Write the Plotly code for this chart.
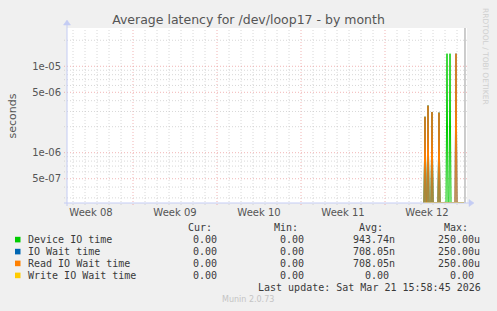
import plotly.graph_objects as go
import pandas as pd

# ---------------- data ----------------
TITLE = "Average latency for /dev/loop17 - by month"
Y_LABEL = "seconds"
X_START = "2026-02-16 12:00"
X_END = "2026-03-21 20:00"
LAST_UPDATE = "2026-03-21 15:58:45"
WEEK_STARTS = ["2026-02-15", "2026-02-22", "2026-03-01", "2026-03-08", "2026-03-15"]
WEEK_LABELS = ["Week 08", "Week 09", "Week 10", "Week 11", "Week 12"]
Y_TICK_VALS = [1e-5, 5e-6, 1e-6, 5e-7]
Y_TICK_TEXT = ["1e-05", "5e-06", "1e-06", "5e-07"]
Y_RANGE_LOG = [-6.582, -4.557]

SAMPLE_START = "2026-03-18 06:00"   # 2-hour averaged samples
SAMPLE_STEP = "2h"

device_io = [0, 2.6e-6, 0, 0, 3.5e-6, 0, 0, 0, 2.95e-6, 0, 0, 0, 0, 0, 0, 2.9e-6,
             0, 0, 0, 0, 0, 0, 0, 1.4e-5, 0, 0, 1.4e-5, 0, 0, 0, 0, 0,
             0, 0, 0, 0, 0, 0, 0, 0, 0]
io_wait = [0, 2.6e-6, 0, 0, 3.5e-6, 0, 0, 0, 2.95e-6, 0, 0, 0, 0, 0, 0, 2.9e-6,
           0, 0, 0, 0, 0, 0, 0, 0, 0, 0, 0, 0, 0, 0, 0, 0,
           1.4e-5, 0, 0, 0, 0, 0, 0, 0, 0]
read_io_wait = [0, 2.6e-6, 0, 0, 3.5e-6, 0, 0, 0, 2.95e-6, 0, 0, 0, 0, 0, 0, 2.9e-6,
                0, 0, 0, 0, 0, 0, 0, 0, 0, 0, 0, 0, 0, 0, 0, 0,
                1.4e-5, 0, 0, 0, 0, 0, 0, 0, 0]
write_io_wait = [0, 0, 0, 0, 0, 0, 0, 0, 0, 0, 0, 0, 0, 0, 0, 0,
                 0, 0, 0, 0, 0, 0, 0, 0, 0, 0, 0, 0, 0, 0, 0, 0,
                 0, 0, 0, 0, 0, 0, 0, 0, 0]

SERIES_NAMES = ["Device IO time", "IO Wait time", "Read IO Wait time", "Write IO Wait time"]
SERIES_COLORS = ["#00CC00", "#0066B3", "#FF8000", "#FFCC00"]
SERIES_DATA = [device_io, io_wait, read_io_wait, write_io_wait]

STAT_HEADERS = ["Cur:", "Min:", "Avg:", "Max:"]
STAT_CUR = [0.0, 0.0, 0.0, 0.0]
STAT_MIN = [0.0, 0.0, 0.0, 0.0]
STAT_AVG = [943.74e-9, 708.05e-9, 708.05e-9, 0.0]
STAT_MAX = [250e-6, 250e-6, 250e-6, 0.0]
LAST_UPDATE_TEXT = "Last update: Sat Mar 21 15:58:45 2026"
MUNIN_VERSION = "Munin 2.0.73"
WATERMARK = "RRDTOOL / TOBI OETIKER"

# ---------------- layout geometry (pixels) ----------------
W, H = 497, 311
PL, PR, PT, PB = 67, 467, 28, 203


def px(x):
    return (x - PL) / (PR - PL)


def py(y):
    return (PB - y) / (PB - PT)


def si_fmt(v):
    if v == 0:
        return "%.2f" % 0, False
    for f, s in [(1e-9, "n"), (1e-6, "u"), (1e-3, "m"), (1, "")]:
        if abs(v) < f * 1000:
            return "%.2f%s" % (v / f, s), s != ""
    return "%.2f" % v, False


floor = 10 ** Y_RANGE_LOG[0]
times = pd.date_range(SAMPLE_START, periods=len(device_io), freq=SAMPLE_STEP)

fig = go.Figure()
for name, col, vals in zip(SERIES_NAMES, SERIES_COLORS, SERIES_DATA):
    fig.add_trace(go.Scatter(
        x=times, y=[max(v, floor) for v in vals], mode="lines", name=name,
        line=dict(color=col, width=1), showlegend=False, hoverinfo="skip"))

shapes = []
GRID_MINOR = "rgba(200,200,200,0.7)"
GRID_MAJOR = "rgba(235,150,150,0.7)"
DASH = "1px,2px"

# vertical grid: daily minor, weekly major
x0 = pd.Timestamp(X_START)
x1 = pd.Timestamp(X_END)
week_ts = [pd.Timestamp(w) for w in WEEK_STARTS]
for d in pd.date_range(x0.ceil("D"), x1, freq="D"):
    major = d in week_ts
    shapes.append(dict(type="line", xref="x", yref="paper", x0=d, x1=d,
                       y0=py(PB + 2), y1=1, layer="below",
                       line=dict(color=GRID_MAJOR if major else GRID_MINOR, width=1, dash=DASH)))

# horizontal grid
for e in range(-8, -3):
    for k in range(1, 10):
        v = k * 10 ** e
        if not (10 ** Y_RANGE_LOG[0] < v < 10 ** Y_RANGE_LOG[1]):
            continue
        major = any(abs(v - t) / t < 1e-9 for t in Y_TICK_VALS)
        shapes.append(dict(type="line", xref="paper", yref="y", x0=px(PL - 3), x1=px(PR + 1),
                           y0=v, y1=v, layer="below",
                           line=dict(color=GRID_MAJOR if major else GRID_MINOR, width=1, dash=DASH)))

# last update marker
shapes.append(dict(type="line", xref="x", yref="paper", x0=LAST_UPDATE, x1=LAST_UPDATE,
                   y0=0, y1=1, line=dict(color="#9a9a9a", width=1)))

# axes lines + arrows
AX = "#c4ccf4"
shapes.append(dict(type="line", xref="paper", yref="paper", x0=px(PL), x1=px(PL),
                   y0=py(PB + 3), y1=py(PT - 4), line=dict(color=AX, width=1)))
shapes.append(dict(type="line", xref="paper", yref="paper", x0=px(PL - 3), x1=px(PR + 3),
                   y0=py(PB), y1=py(PB), line=dict(color=AX, width=1)))


def tri(pts):
    p = "M " + " L ".join("%f,%f" % (px(a), py(b)) for a, b in pts) + " Z"
    return dict(type="path", xref="paper", yref="paper", path=p,
                fillcolor=AX, line=dict(color=AX, width=0.5))


shapes.append(tri([(PL - 3.5, PT - 3), (PL + 3.5, PT - 3), (PL, PT - 8)]))
shapes.append(tri([(PR + 2, PB - 3.5), (PR + 2, PB + 3.5), (PR + 7, PB)]))

# legend squares
ROW_Y = [239.6, 251.6, 263.4, 275.4]
for col, ry in zip(SERIES_COLORS, ROW_Y):
    shapes.append(dict(type="rect", xref="paper", yref="paper",
                       x0=px(15), x1=px(20.5), y0=py(ry - 2.8), y1=py(ry + 2.8),
                       fillcolor=col, line=dict(width=0)))

ann = []
MONO = "DejaVu Sans Mono"
TXT = "#3a3a3a"


def A(text, x, y, xa="left", size=10, color=TXT, family=MONO, angle=0):
    ann.append(dict(text=text, x=px(x), y=py(y), xref="paper", yref="paper",
                    xanchor=xa, yanchor="middle", showarrow=False, textangle=angle,
                    font=dict(family=family, size=size, color=color)))


COL_END = [225.3, 311.7, 396.7, 482.3]
HDR_END = [213.5, 299.5, 384.5, 470.2]
CHAR_W = 6.02
for h, xe in zip(STAT_HEADERS, HDR_END):
    A(h, xe, 227.7, xa="right")
for i, (name, ry) in enumerate(zip(SERIES_NAMES, ROW_Y)):
    A(name, 25.5, ry)
    for xe, stat in zip(COL_END, [STAT_CUR, STAT_MIN, STAT_AVG, STAT_MAX]):
        t, unit = si_fmt(stat[i])
        A(t, xe if unit else xe - CHAR_W, ry, xa="right")
A(LAST_UPDATE_TEXT, 482.5, 287.7, xa="right")
A(MUNIN_VERSION, 248, 299.5, xa="center", size=8, color="#c4c4c4", family="DejaVu Sans")
A(WATERMARK, 486, 56, xa="center", size=7.5, color="#cfcfcf", family="DejaVu Sans", angle=90)
A(Y_LABEL, 12, 115.5, xa="center", size=11, color="#555555", family="DejaVu Sans", angle=-90)

fig.update_layout(
    width=W, height=H, margin=dict(l=PL, r=W - PR, t=PT, b=H - PB, pad=0),
    paper_bgcolor="#f0f0f0", plot_bgcolor="#ffffff",
    title=dict(text=TITLE, x=0.5, xref="container", xanchor="center",
               y=1 - 19.5 / H, yref="container", yanchor="middle",
               font=dict(family="DejaVu Sans", size=12.5, color="#555555")),
    shapes=shapes, annotations=ann, showlegend=False,
    xaxis=dict(type="date", range=[X_START, X_END], showgrid=False, zeroline=False,
               showline=False, ticks="",
               tickvals=[w + pd.Timedelta(hours=84) for w in week_ts], ticktext=WEEK_LABELS,
               tickfont=dict(family="DejaVu Sans", size=10, color="#555555"),
               ticklabelstandoff=2),
    yaxis=dict(type="log", range=Y_RANGE_LOG, showgrid=False, zeroline=False,
               showline=False, ticks="", tickvals=Y_TICK_VALS, ticktext=Y_TICK_TEXT,
               tickfont=dict(family="DejaVu Sans", size=10, color="#555555"),
               ticklabelstandoff=5),
)

fig.write_html("out.html")
